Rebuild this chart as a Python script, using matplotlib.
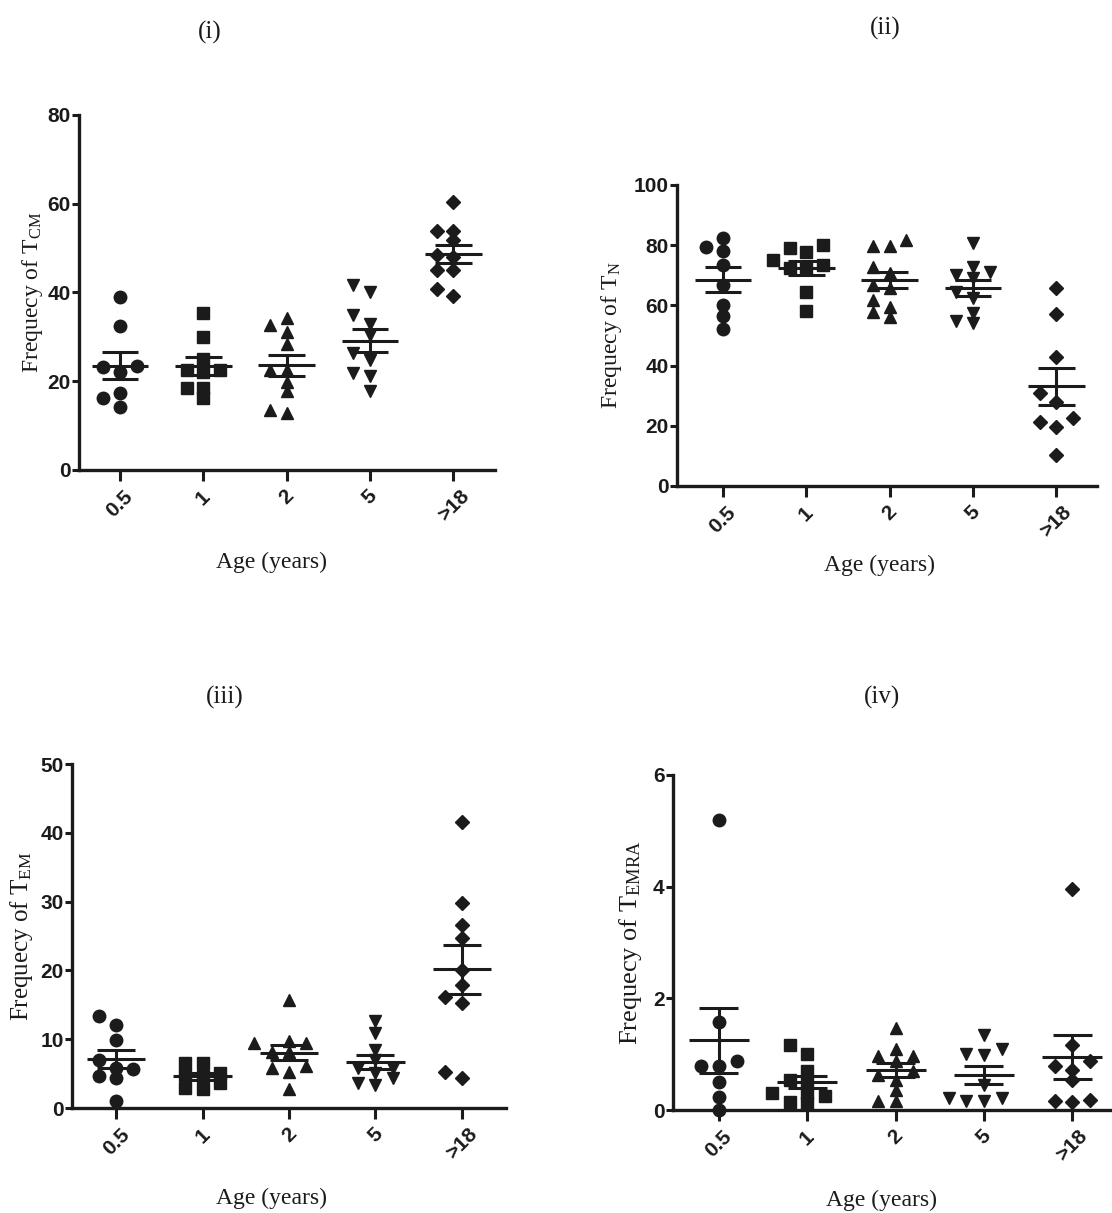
import matplotlib
matplotlib.use("Agg")
import matplotlib.pyplot as plt
import numpy as np

plt.rcParams['mathtext.fontset'] = 'custom'
plt.rcParams['mathtext.rm'] = 'Liberation Serif'
plt.rcParams['mathtext.it'] = 'Liberation Serif:italic'

INK = '#1b1b1b'
SERIF = ['Liberation Serif', 'DejaVu Serif']
TICKFONT = ['Liberation Sans Narrow', 'Liberation Sans', 'DejaVu Sans']

# categories and markers
ages = ['0.5', '1', '2', '5', '>18']
markers = ['o', 's', '^', 'v', 'D']

# (i) frequency of central memory T cells
tcm = [
    [38.9, 32.5, 23.5, 23.3, 22.0, 17.4, 16.2, 14.3],
    [35.3, 29.9, 25.0, 22.5, 22.5, 22.0, 18.4, 18.4, 16.2],
    [34.2, 32.7, 31.2, 28.5, 22.5, 22.5, 19.9, 17.7, 13.5, 12.8],
    [41.7, 40.0, 34.9, 32.9, 30.4, 26.3, 24.8, 21.9, 21.2, 17.7],
    [60.3, 53.9, 53.9, 51.8, 48.5, 48.1, 45.1, 45.1, 40.9, 39.1],
]

# (ii) frequency of naive T cells
tn = [
    [82.3, 79.3, 78.2, 73.4, 66.8, 60.1, 56.5, 52.0],
    [80.1, 79.0, 77.9, 75.0, 73.4, 72.3, 72.3, 64.6, 58.3],
    [81.7, 79.7, 79.7, 72.9, 70.7, 66.8, 65.7, 61.8, 59.6, 57.9, 56.3],
    [80.8, 72.9, 71.2, 70.1, 69.0, 64.6, 62.3, 57.6, 54.9, 54.0],
    [65.7, 57.1, 43.0, 30.8, 28.0, 22.5, 21.4, 19.7, 10.3],
]

# (iii) frequency of effector memory T cells
tem = [
    [13.4, 12.1, 9.9, 7.0, 5.8, 5.6, 4.6, 4.4, 1.0],
    [6.5, 6.5, 5.1, 4.8, 4.6, 3.6, 2.9, 2.7],
    [15.7, 9.7, 9.4, 9.4, 8.2, 8.2, 6.1, 5.8, 5.3, 2.7],
    [12.6, 10.9, 8.5, 7.0, 5.8, 5.8, 5.1, 4.4, 3.6, 3.4],
    [41.5, 29.8, 26.6, 24.7, 20.1, 17.9, 16.2, 15.2, 5.3, 4.4],
]

# (iv) frequency of TEMRA cells
temra = [
    [5.2, 1.58, 0.87, 0.78, 0.78, 0.51, 0.24, 0.0],
    [1.16, 1.01, 0.69, 0.54, 0.50, 0.30, 0.30, 0.25, 0.15, 0.12],
    [1.46, 1.10, 0.96, 0.96, 0.87, 0.69, 0.63, 0.54, 0.36, 0.17, 0.17],
    [1.34, 1.10, 1.00, 0.99, 0.45, 0.21, 0.21, 0.17, 0.17],
    [3.95, 1.16, 0.87, 0.78, 0.72, 0.54, 0.18, 0.17, 0.15],
]

W, H = 1112, 1213
fig = plt.figure(figsize=(W / 100, H / 100), dpi=100)
fig.patch.set_facecolor('white')


def px_axes(left, top, right, bottom):
    return fig.add_axes([left / W, 1 - bottom / H, (right - left) / W, (bottom - top) / H])


def swarm(ax, values, step=0.2, gap=9):
    # simple deterministic dot spreading, like a column scatter plot
    vals = np.asarray(values, float)
    placed = []
    offs = np.zeros(len(vals))
    for i in np.argsort(vals):
        best, best_d = 0, -1
        for k in [0, -1, 1, -2, 2]:
            p = ax.transData.transform((k * step, vals[i]))
            d = min([np.hypot(*(p - q)) for q in placed], default=1e9)
            if d >= gap:
                best = k
                break
            if d > best_d:
                best, best_d = k, d
        offs[i] = best * step
        placed.append(ax.transData.transform((best * step, vals[i])))
    return offs


panels = [
    dict(box=(79, 115, 495, 470), xlim=(-0.49, 4.5), ymax=80, yticks=[0, 20, 40, 60, 80],
         data=tcm, ylabel=r'Frequecy of T$_{\mathrm{CM}}$', title='(i)', tpos=(210, 32),
         ylab_x=33, xlab=(272, 562), ysize=17),
    dict(box=(677, 185, 1097, 486), xlim=(-0.55, 4.49), ymax=100, yticks=[0, 20, 40, 60, 80, 100],
         data=tn, ylabel=r'Frequecy of T$_{\mathrm{N}}$', title='(ii)', tpos=(885, 28),
         ylab_x=612, xlab=(880, 565), ysize=17),
    dict(box=(72, 764, 506, 1108), xlim=(-0.51, 4.51), ymax=50, yticks=[0, 10, 20, 30, 40, 50],
         data=tem, ylabel=r'Frequecy of T$_{\mathrm{EM}}$', title='(iii)', tpos=(225, 697),
         ylab_x=22, xlab=(271, 1198), ysize=18),
    dict(box=(673, 775, 1112, 1110), xlim=(-0.52, 4.45), ymax=6, yticks=[0, 2, 4, 6],
         data=temra, ylabel=r'Frequecy of T$_{\mathrm{EMRA}}$', title='(iv)', tpos=(882, 697),
         ylab_x=630, xlab=(882, 1200), ysize=19),
]

for p in panels:
    left, top, right, bottom = p['box']
    ax = px_axes(left, top, right, bottom)
    ax.set_xlim(*p['xlim'])
    ax.set_ylim(0, p['ymax'])

    for g, vals in enumerate(p['data']):
        vals = np.asarray(vals, float)
        x = g + swarm(ax, vals)
        ax.plot(x, vals, ls='none', marker=markers[g], color=INK,
                ms=7.5 if markers[g] == 'D' else 9, mec=INK, clip_on=False, zorder=3)
        m = vals.mean()
        sem = vals.std(ddof=1) / np.sqrt(len(vals))
        ax.hlines(m, g - 0.34, g + 0.34, color=INK, lw=2.2, zorder=4)
        ax.vlines(g, m - sem, m + sem, color=INK, lw=2.2, zorder=4)
        ax.hlines([m - sem, m + sem], g - 0.22, g + 0.22, color=INK, lw=2.2, zorder=4)

    for s in ['top', 'right']:
        ax.spines[s].set_visible(False)
    for s in ['left', 'bottom']:
        ax.spines[s].set_linewidth(2.4)
        ax.spines[s].set_color(INK)

    ax.set_yticks(p['yticks'])
    ax.set_xticks(range(len(ages)))
    ax.set_xticklabels(ages, rotation=45, ha='center')
    ax.tick_params(axis='y', length=5, width=2.2, pad=1, color=INK)
    ax.tick_params(axis='x', length=8, width=2.2, pad=4, color=INK)
    for lab in ax.get_xticklabels() + ax.get_yticklabels():
        lab.set_family(TICKFONT)
        lab.set_fontweight('bold')
        lab.set_fontsize(15)
        lab.set_color(INK)

    ax.set_ylabel(p['ylabel'], family=SERIF, fontsize=p['ysize'], color=INK, va='center')
    ax.yaxis.set_label_coords((p['ylab_x'] - left) / (right - left), 0.5)
    ax.set_xlabel('Age (years)', family=SERIF, fontsize=17, color=INK, va='center')
    ax.xaxis.set_label_coords((p['xlab'][0] - left) / (right - left),
                              (bottom - p['xlab'][1]) / (bottom - top))

    fig.text(p['tpos'][0] / W, 1 - p['tpos'][1] / H, p['title'], family=SERIF,
             fontsize=18, color=INK, ha='center', va='center')

fig.savefig('out.png', dpi=100, facecolor='white')
